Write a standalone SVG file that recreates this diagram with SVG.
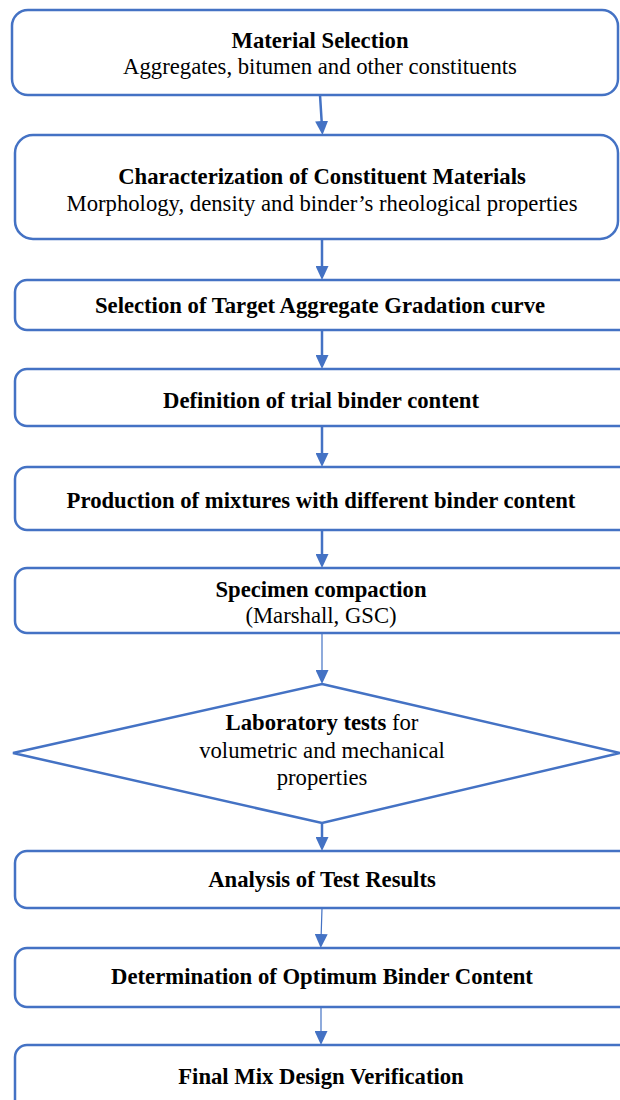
<svg xmlns="http://www.w3.org/2000/svg" width="620" height="1100" viewBox="0 0 620 1100">
<defs>
<style>
.box{fill:#fff;stroke:#4472C4;stroke-width:2.5}
.t{font-size:22.7px;fill:#000;text-anchor:middle}
.b{font-weight:bold}
.c{stroke:#4472C4;fill:none}
.thick{stroke-width:2.5}
.thin{stroke-width:1.2}
</style>
<marker id="ah" viewBox="0 0 14 13" refX="6" refY="6.5" markerWidth="14" markerHeight="13" markerUnits="userSpaceOnUse" orient="auto">
<path d="M0,0 L14,6.5 L0,13 z" fill="#4472C4"/>
</marker>
</defs>
<rect width="620" height="1100" fill="#fff"/>
<g id="connectors">
<line class="c thick" x1="320" y1="95" x2="322" y2="127" marker-end="url(#ah)"/>
<line class="c thick" x1="322" y1="239" x2="322" y2="272" marker-end="url(#ah)"/>
<line class="c thick" x1="322" y1="330" x2="322" y2="361" marker-end="url(#ah)"/>
<line class="c thick" x1="322" y1="426" x2="322" y2="459" marker-end="url(#ah)"/>
<line class="c thick" x1="322" y1="530" x2="322" y2="560" marker-end="url(#ah)"/>
<line class="c thin" x1="322" y1="633" x2="322" y2="676" marker-end="url(#ah)"/>
<line class="c thick" x1="322" y1="823" x2="322" y2="843" marker-end="url(#ah)"/>
<line class="c thin" x1="322" y1="908" x2="321" y2="940" marker-end="url(#ah)"/>
<line class="c thin" x1="321" y1="1007" x2="321" y2="1037" marker-end="url(#ah)"/>
</g>
<g font-family="Liberation Serif, Times New Roman, DejaVu Serif, serif">
<g id="n1">
<rect class="box" x="12" y="10" width="606" height="85" rx="16"/>
<text class="t b" x="320" y="48">Material Selection</text>
<text class="t" x="320" y="74">Aggregates, bitumen and other constituents</text>
</g>
<g id="n2">
<rect class="box" x="15" y="135" width="603" height="104" rx="18"/>
<text class="t b" x="322" y="184">Characterization of Constituent Materials</text>
<text class="t" x="322" y="211">Morphology, density and binder’s rheological properties</text>
</g>
<g id="n3">
<rect class="box" x="15" y="280" width="620" height="50" rx="12"/>
<text class="t b" x="320" y="313">Selection of Target Aggregate Gradation curve</text>
</g>
<g id="n4">
<rect class="box" x="15" y="369" width="620" height="57" rx="12"/>
<text class="t b" x="321" y="408">Definition of trial binder content</text>
</g>
<g id="n5">
<rect class="box" x="15" y="467" width="620" height="63" rx="12"/>
<text class="t b" x="321" y="508">Production of mixtures with different binder content</text>
</g>
<g id="n6">
<rect class="box" x="15" y="568" width="620" height="65" rx="12"/>
<text class="t b" x="321" y="597">Specimen compaction</text>
<text class="t" x="321" y="623">(Marshall, GSC)</text>
</g>
<g id="n7">
<polygon class="box" points="322,684 620,753 322,823 13,753"/>
<text class="t" x="322" y="730"><tspan class="b">Laboratory tests</tspan> for</text>
<text class="t" x="322" y="758">volumetric and mechanical</text>
<text class="t" x="322" y="785">properties</text>
</g>
<g id="n8">
<rect class="box" x="15" y="851" width="620" height="57" rx="12"/>
<text class="t b" x="322" y="887">Analysis of Test Results</text>
</g>
<g id="n9">
<rect class="box" x="15" y="948" width="620" height="59" rx="12"/>
<text class="t b" x="322" y="984">Determination of Optimum Binder Content</text>
</g>
<g id="n10">
<rect class="box" x="15" y="1045" width="620" height="70" rx="12"/>
<text class="t b" x="321" y="1084">Final Mix Design Verification</text>
</g>
</g>
</svg>
